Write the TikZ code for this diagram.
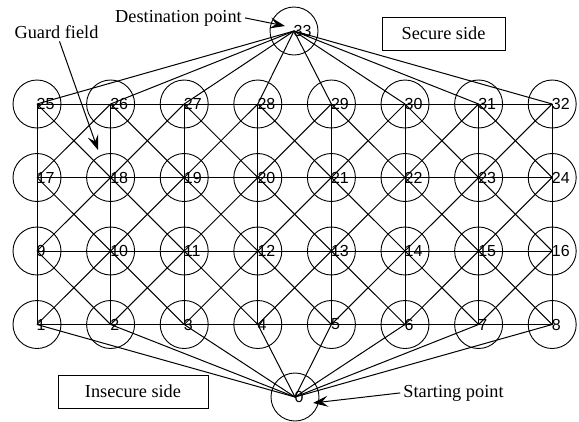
\documentclass[tikz,border=0pt]{standalone}
\usepackage{fontspec}
\setmainfont{Liberation Serif}
\newfontfamily\numfont{Liberation Sans}
\usetikzlibrary{arrows.meta}
\begin{document}
\begin{tikzpicture}[x=1pt,y=-1pt,
  vtx/.style={circle,draw,minimum size=48pt,inner sep=0pt,line width=0.9pt},
  num/.style={anchor=west,inner sep=0pt,xshift=-0.5pt,font=\numfont\fontsize{16}{16}\selectfont},
  edge/.style={line width=1pt},
  lbl/.style={font=\fontsize{18.3}{18.3}\selectfont,inner sep=3pt},
  sidebox/.style={draw,line width=0.9pt,minimum height=33pt,font=\fontsize{18.3}{18.3}\selectfont,inner sep=0pt},
  pointer/.style={line width=1pt,-{Stealth[length=15pt,width=11pt,inset=6pt]}}
]
\useasboundingbox (0,0) rectangle (579,421);
% grid vertices
\foreach \r in {0,...,3}{
  \foreach \c in {0,...,7}{
    \pgfmathtruncatemacro\k{8*\r+\c+1}
    \pgfmathsetmacro\xx{37+73.6*\c}
    \pgfmathsetmacro\yy{324.5-73.5*\r}
    \node[vtx] (n\k) at (\xx,\yy) {};
  }
}
\node[vtx] (n33) at (294,31) {};
\node[vtx] (n0) at (295,397) {};
% horizontal edges
\foreach \r in {0,...,3}{
  \foreach \c in {1,...,7}{
    \pgfmathtruncatemacro\k{8*\r+\c+1}
    \pgfmathtruncatemacro\j{\k-1}
    \draw[edge] (n\j.center) -- (n\k.center);
  }
}
% vertical edges
\foreach \r in {1,...,3}{
  \foreach \c in {0,...,7}{
    \pgfmathtruncatemacro\k{8*\r+\c+1}
    \pgfmathtruncatemacro\j{\k-8}
    \draw[edge] (n\j.center) -- (n\k.center);
  }
}
% diagonal edges
\foreach \r in {1,...,3}{
  \foreach \c in {1,...,7}{
    \pgfmathtruncatemacro\k{8*\r+\c+1}
    \pgfmathtruncatemacro\a{\k-9}
    \pgfmathtruncatemacro\b{\k-1}
    \pgfmathtruncatemacro\d{\k-8}
    \draw[edge] (n\a.center) -- (n\k.center);
    \draw[edge] (n\b.center) -- (n\d.center);
  }
}
% destination and start fans
\foreach \k in {25,...,32}{\draw[edge] (n33.center) -- (n\k.center);}
\foreach \k in {1,...,8}{\draw[edge] (n0.center) -- (n\k.center);}
% vertex labels
\foreach \k in {0,...,33}{\node[num] at (n\k.center) {\k};}
% annotations
\node[lbl,anchor=base] (dest) at (178.5,22) {Destination point};
\node[lbl,anchor=base] (guard) at (56.5,38) {Guard field};
\node[lbl,anchor=base] (start) at (453.5,397) {Starting point};
\coordinate (dtip) at (285,26);
\coordinate (gtip) at (98,150);
\coordinate (stip) at (313,403);
\draw[pointer] (dest.east) -- (dtip);
\draw[pointer] ([xshift=3pt]guard.south) -- (gtip);
\draw[pointer] (start.west) -- (stip);
\node[sidebox,minimum width=123pt] (secure) at (443.5,33.5) {Secure side};
\node[sidebox,minimum width=150pt] (insecure) at (133,391.5) {Insecure side};
\end{tikzpicture}
\end{document}
